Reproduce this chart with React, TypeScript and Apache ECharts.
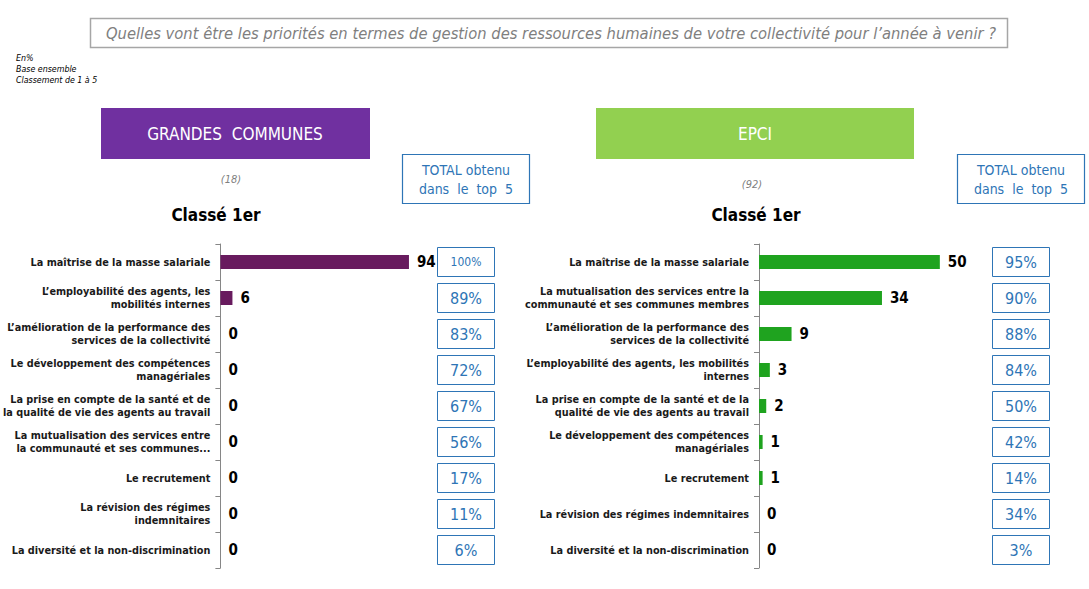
import React, { useEffect, useRef } from "react";
import * as echarts from "echarts";

const categoriesGC = [
  "La maîtrise de la masse salariale",
  "L’employabilité des agents, les\nmobilités internes",
  "L’amélioration de la performance des\nservices de la collectivité",
  "Le développement des compétences\nmanagériales",
  "La prise en compte de la santé et de\nla qualité de vie des agents au travail",
  "La mutualisation des services entre\nla communauté et ses communes...",
  "Le recrutement",
  "La révision des régimes\nindemnitaires",
  "La diversité et la non-discrimination",
];
const valuesGC = [94, 6, 0, 0, 0, 0, 0, 0, 0];
const pctGC = ["100%", "89%", "83%", "72%", "67%", "56%", "17%", "11%", "6%"];

const categoriesEPCI = [
  "La maîtrise de la masse salariale",
  "La mutualisation des services entre la\ncommunauté et ses communes membres",
  "L’amélioration de la performance des\nservices de la collectivité",
  "L’employabilité des agents, les mobilités\ninternes",
  "La prise en compte de la santé et de la\nqualité de vie des agents au travail",
  "Le développement des compétences\nmanagériales",
  "Le recrutement",
  "La révision des régimes indemnitaires",
  "La diversité et la non-discrimination",
];
const valuesEPCI = [50, 34, 9, 3, 2, 1, 1, 0, 0];
const pctEPCI = ["95%", "90%", "88%", "84%", "50%", "42%", "14%", "34%", "3%"];

const titleText =
  "Quelles vont être les priorités en termes de gestion des ressources humaines de votre collectivité pour l’année à venir ?";
const notes = ["En%", "Base ensemble", "Classement de 1 à 5"];
const groupGC = "GRANDES  COMMUNES";
const groupEPCI = "EPCI";
const baseGC = "(18)";
const baseEPCI = "(92)";
const rankTitle = "Classé 1er";
const totalText = "TOTAL obtenu\ndans  le  top  5";

const SANS = 'Tahoma, "DejaVu Sans Condensed", "DejaVu Sans", sans-serif';
const BLUE = "#2E75B6";

function catAxis(gridIndex: number, data: string[]) {
  return {
    type: "category",
    gridIndex,
    data,
    inverse: true,
    axisLine: { show: true, lineStyle: { color: "#868686", width: 1 } },
    axisTick: { show: true, length: 5, lineStyle: { color: "#868686" } },
    axisLabel: {
      interval: 0,
      margin: 10,
      fontSize: 10.8,
      fontWeight: "bold",
      color: "#1a1a1a",
      lineHeight: 13,
      fontFamily: SANS,
      align: "right",
    },
  };
}

function pctAxis(gridIndex: number, data: string[]) {
  return {
    type: "category",
    gridIndex,
    data,
    inverse: true,
    position: "right",
    axisLine: { show: false },
    axisTick: { show: false },
    axisLabel: {
      interval: 0,
      margin: 45,
      align: "center",
      width: 57,
      height: 29,
      lineHeight: 29,
      borderColor: BLUE,
      borderWidth: 1,
      color: BLUE,
      fontSize: 16,
      fontFamily: SANS,
      formatter: (v: string) => (v.length > 3 ? `{s|${v}}` : v),
      rich: { s: { fontSize: 12, color: BLUE, fontFamily: SANS, lineHeight: 29 } },
    },
  };
}

function barSeries(idx: number, yIdx: number, data: number[], color: string) {
  return {
    type: "bar",
    xAxisIndex: idx,
    yAxisIndex: yIdx,
    data,
    barWidth: 14,
    itemStyle: { color },
    label: {
      show: true,
      position: "right",
      distance: 8,
      fontSize: 15,
      fontWeight: "bold",
      color: "#000",
      fontFamily: SANS,
    },
  };
}

export default function App() {
  const ref = useRef<HTMLDivElement>(null);
  useEffect(() => {
    document.body.style.margin = "0";
    const chart = echarts.init(ref.current!, null, { renderer: "svg" });
    chart.setOption({
      animation: false,
      backgroundColor: "#fff",
      grid: [
        { left: 220, top: 244, width: 201, height: 324, containLabel: false },
        { left: 759, top: 244, width: 217, height: 324, containLabel: false },
      ],
      xAxis: [
        { type: "value", gridIndex: 0, min: 0, max: 100, show: false },
        { type: "value", gridIndex: 1, min: 0, max: 60, show: false },
      ],
      yAxis: [
        catAxis(0, categoriesGC),
        pctAxis(0, pctGC),
        catAxis(1, categoriesEPCI),
        pctAxis(1, pctEPCI),
      ],
      series: [
        barSeries(0, 0, valuesGC, "#681B5E"),
        barSeries(1, 2, valuesEPCI, "#1FA31F"),
      ],
      graphic: [
        {
          type: "rect",
          shape: { x: 90.5, y: 18.5, width: 917, height: 29 },
          style: { fill: "#fff", stroke: "#A6A6A6", lineWidth: 1.5 },
        },
        {
          type: "text",
          x: 551,
          y: 33,
          style: {
            text: titleText,
            fontSize: 16.4,
            fontStyle: "italic",
            fontFamily: SANS,
            fill: "#7F7F7F",
            align: "center",
            verticalAlign: "middle",
          },
        },
        ...notes.map((t, i) => ({
          type: "text",
          x: 16,
          y: 58 + i * 11,
          style: {
            text: t,
            fontSize: 8.8,
            fontStyle: "italic",
            fontFamily: SANS,
            fill: "#000",
            verticalAlign: "middle",
          },
        })),
        {
          type: "rect",
          shape: { x: 101, y: 108, width: 269, height: 51 },
          style: { fill: "#7030A0" },
        },
        {
          type: "text",
          x: 235,
          y: 134,
          style: {
            text: groupGC,
            fontSize: 17,
            fontFamily: SANS,
            fill: "#fff",
            align: "center",
            verticalAlign: "middle",
          },
        },
        {
          type: "rect",
          shape: { x: 596, y: 108, width: 318, height: 51 },
          style: { fill: "#92D050" },
        },
        {
          type: "text",
          x: 755,
          y: 134,
          style: {
            text: groupEPCI,
            fontSize: 17,
            fontFamily: SANS,
            fill: "#fff",
            align: "center",
            verticalAlign: "middle",
          },
        },
        {
          type: "text",
          x: 231,
          y: 179,
          style: {
            text: baseGC,
            fontSize: 11,
            fontStyle: "italic",
            fontFamily: SANS,
            fill: "#7F7F7F",
            align: "center",
            verticalAlign: "middle",
          },
        },
        {
          type: "text",
          x: 752,
          y: 184,
          style: {
            text: baseEPCI,
            fontSize: 11,
            fontStyle: "italic",
            fontFamily: SANS,
            fill: "#7F7F7F",
            align: "center",
            verticalAlign: "middle",
          },
        },
        {
          type: "text",
          x: 216,
          y: 215,
          style: {
            text: rankTitle,
            fontSize: 17,
            fontWeight: "bold",
            fontFamily: SANS,
            fill: "#000",
            align: "center",
            verticalAlign: "middle",
          },
        },
        {
          type: "text",
          x: 756,
          y: 215,
          style: {
            text: rankTitle,
            fontSize: 17,
            fontWeight: "bold",
            fontFamily: SANS,
            fill: "#000",
            align: "center",
            verticalAlign: "middle",
          },
        },
        ...[402.5, 957.5].map((bx) => ({
          type: "group",
          children: [
            {
              type: "rect",
              shape: { x: bx, y: 154.5, width: 127, height: 49 },
              style: { fill: "#fff", stroke: BLUE, lineWidth: 1.2 },
            },
            {
              type: "text",
              x: bx + 63.5,
              y: 179,
              style: {
                text: totalText,
                fontSize: 14,
                lineHeight: 19,
                fontFamily: SANS,
                fill: BLUE,
                align: "center",
                verticalAlign: "middle",
              },
            },
          ],
        })),
      ],
    });
    return () => chart.dispose();
  }, []);
  return <div ref={ref} style={{ width: 1089, height: 589 }} />;
}
